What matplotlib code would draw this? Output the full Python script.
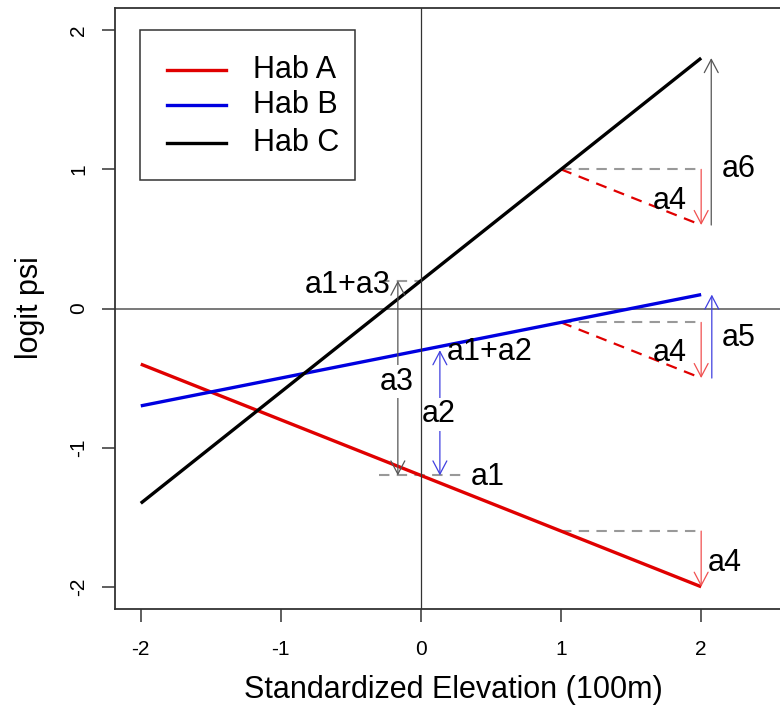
import matplotlib
matplotlib.use("Agg")
import matplotlib.pyplot as plt
from matplotlib.lines import Line2D
from matplotlib.patches import Rectangle

plt.rcParams['font.family'] = ['Liberation Sans', 'DejaVu Sans']

# ---- data ----
elev = [-2, 2]
hab_labels = ["Hab A", "Hab B", "Hab C"]
hab_colors = ["#E00000", "#0000E0", "#000000"]
logit_A = [-0.4, -2.0]
logit_B = [-0.7, 0.1]
logit_C = [-1.4, 1.8]
xticks = [-2, -1, 0, 1, 2]
yticks = [-2, -1, 0, 1, 2]

# effect-at-elevation-1 points (for a4 construction)
x_ref = 1
y_ref_A, y_ref_B, y_ref_C = -1.6, -0.1, 1.0
y_end_A, y_end_B, y_end_C = -2.0, -0.5, 0.6
intercept_A, intercept_B, intercept_C = -1.2, -0.3, 0.2

fig = plt.figure(figsize=(7.8, 7.13), dpi=100)
ax = fig.add_axes([115/780, 104/713, 696/780, 601/713])
ax.set_xlim(-2.184, 2.784)
ax.set_ylim(-2.16, 2.16)

# reference lines
ax.axhline(0, color="#555555", lw=1.1, zorder=1)
ax.axvline(0, color="#333333", lw=0.9, zorder=5.5)

# main lines
for ys, c in zip([logit_A, logit_B, logit_C], hab_colors):
    ax.plot(elev, ys, color=c, lw=2.4, solid_capstyle="butt", zorder=3)

grey_dash = dict(color="#999999", lw=1.5, linestyle=(0, (5, 3.5)), zorder=2)
red_dash = dict(color="#E00000", lw=1.6, linestyle=(0, (5, 3.5)), zorder=2)

def arrow(x, y0, y1, color, both=False, lw=0.9):
    style = "<->" if both else "->"
    ax.annotate("", xy=(x, y1), xytext=(x, y0),
                arrowprops=dict(arrowstyle=style + ",head_length=0.95,head_width=0.5",
                                mutation_scale=10, color=color, lw=lw,
                                shrinkA=0, shrinkB=0), zorder=4)

# intercept-related annotations
ax.plot([-0.3, 0.3], [intercept_A, intercept_A], **grey_dash)
ax.plot([-0.3, 0.0], [intercept_C, intercept_C], **grey_dash)
arrow(0.135, intercept_A, intercept_B, "#4040E0", both=True)
arrow(-0.165, intercept_A, intercept_C, "#555555", both=True)

# slope annotations on the right
for yr, ye in [(y_ref_A, y_end_A), (y_ref_B, y_end_B), (y_ref_C, y_end_C)]:
    ax.plot([x_ref, 2], [yr, yr], **grey_dash)
    arrow(2, yr, ye, "#F05050")
ax.plot([x_ref, 2], [y_ref_B, y_end_B], **red_dash)
ax.plot([x_ref, 2], [y_ref_C, y_end_C], **red_dash)
arrow(2.072, y_end_C, logit_C[1], "#555555")
arrow(2.076, y_end_B, logit_B[1], "#4040E0")

fs = 22
box = dict(boxstyle="square,pad=0.05", fc="white", ec="none")
ax.text(0.475, -1.21, "a1", fontsize=fs, ha="center", va="center", zorder=5)
ax.text(0.49, -0.315, "a1+a2", fontsize=fs, ha="center", va="center", zorder=5)
ax.text(0.13, -0.76, "a2", fontsize=fs, ha="center", va="center", zorder=5, bbox=box)
ax.text(-0.17, -0.525, "a3", fontsize=fs, ha="center", va="center", zorder=5, bbox=box)
ax.text(-0.52, 0.17, "a1+a3", fontsize=fs, ha="center", va="center", zorder=5)
ax.text(1.779, 0.776, "a4", fontsize=fs, ha="center", va="center", zorder=5)
ax.text(1.779, -0.323, "a4", fontsize=fs, ha="center", va="center", zorder=5)
ax.text(2.17, -1.83, "a4", fontsize=fs, ha="center", va="center", zorder=5)
ax.text(2.27, 1.0, "a6", fontsize=fs, ha="center", va="center", zorder=5)
ax.text(2.27, -0.215, "a5", fontsize=fs, ha="center", va="center", zorder=5)

# legend drawn in axes fraction
ax.add_patch(Rectangle((0.0359, 0.7138), 0.3089, 0.2496, transform=ax.transAxes,
                       fill=False, ec="#333333", lw=1.1, zorder=6))
rows = [0.897, 0.8386, 0.7754]
for lab, c, yy in zip(hab_labels, hab_colors, rows):
    ax.add_line(Line2D([0.0747, 0.1595], [yy, yy], transform=ax.transAxes,
                       color=c, lw=2.4, zorder=6))
    ax.text(0.1983, yy, lab, transform=ax.transAxes, fontsize=fs,
            ha="left", va="center", zorder=6)

# axes styling
for s in ["left", "bottom", "top"]:
    ax.spines[s].set_color("#333333")
    ax.spines[s].set_linewidth(1.3)
ax.spines["right"].set_visible(False)
ax.set_xticks(xticks)
ax.set_yticks(yticks)
ax.set_xticklabels([str(v) for v in xticks])
ax.set_yticklabels([str(v) for v in yticks], rotation=90, va="center")
ax.tick_params(axis="x", length=9.5, width=1.1, color="#333333", labelsize=15, pad=13)
ax.tick_params(axis="y", length=9.5, width=1.1, color="#333333", labelsize=15, pad=10)

fig.text(453/780, 1 - 690/713, "Standardized Elevation (100m)", fontsize=fs,
         ha="center", va="center")
fig.text(30/780, 1 - 308/713, "logit psi", fontsize=fs, rotation=90,
         ha="center", va="center")

fig.savefig("out.png", dpi=100)
